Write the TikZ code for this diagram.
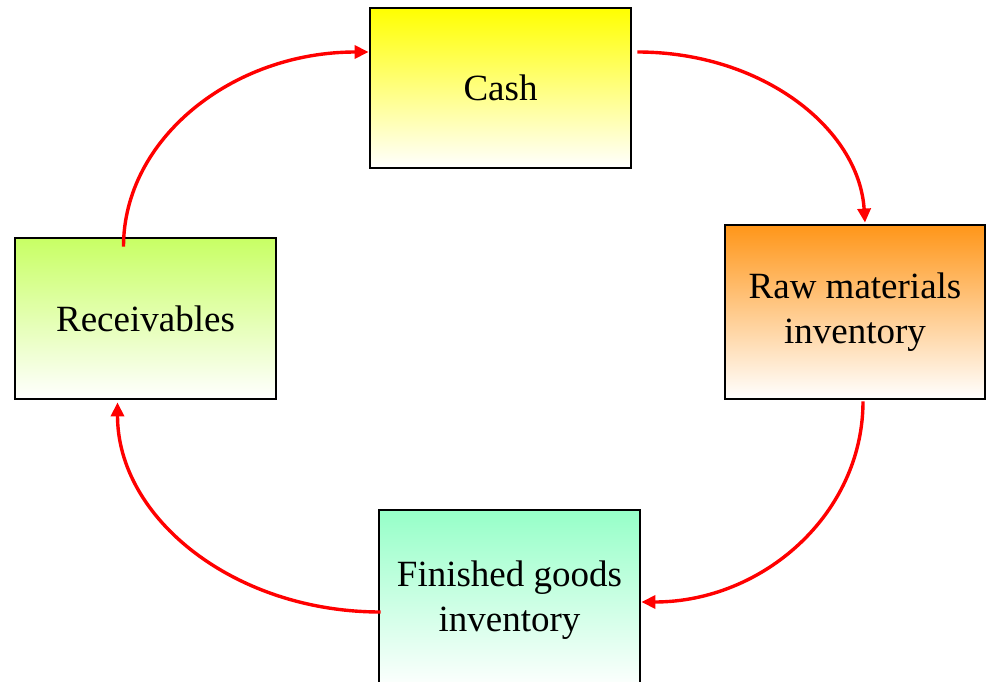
\documentclass[tikz,border=0pt]{standalone}
\usepackage{fontspec}
\setmainfont{Liberation Serif}
\usetikzlibrary{arrows.meta}

\definecolor{cashtop}{RGB}{255,255,0}
\definecolor{rawtop}{RGB}{255,150,25}
\definecolor{goodstop}{RGB}{150,255,200}
\definecolor{rectop}{RGB}{200,255,100}
\definecolor{flowred}{RGB}{255,0,0}

\tikzset{
  stage/.style={draw=black, line width=2.8pt, rectangle, inner sep=0pt,
    align=center, bottom color=white,
    font=\fontsize{37}{45}\selectfont},
  flow/.style={draw=flowred, line width=3.4pt,
    -{Triangle[length=14pt,width=13pt]}},
}

\begin{document}
\begin{tikzpicture}[x=1pt, y=-1pt]
  \useasboundingbox (0,0) rectangle (986,682);

  % the four stages of the cycle
  \node[stage, top color=cashtop, minimum width=261pt, minimum height=160pt]
    (cash) at (500.5,88) {Cash};
  \node[stage, top color=rawtop, minimum width=260pt, minimum height=174pt]
    (raw) at (855,312) {Raw materials\\inventory};
  \node[stage, top color=goodstop, minimum width=261pt, minimum height=180pt]
    (goods) at (509.5,600) {Finished goods\\inventory};
  \node[stage, top color=rectop, minimum width=261pt, minimum height=161pt]
    (rec) at (145.5,318.5) {Receivables};

  % curved flows between the stages
  \draw[flow] ([shift={(-22,10)}]rec.north)
    .. controls +(0,-108) and +(-136,0) .. ([shift={(0,-36)}]cash.west);
  \draw[flow] ([shift={(5,-36)}]cash.east)
    .. controls +(125,0) and +(-6,-94) .. ([shift={(10,-1)}]raw.north);
  \draw[flow] ([shift={(8,1)}]raw.south)
    .. controls +(0,112) and +(122,0) .. ([shift={(0,2)}]goods.east);
  \draw[flow] ([shift={(3,12)}]goods.west)
    .. controls +(-146,0) and +(0,116) .. ([shift={(-28,2)}]rec.south);
\end{tikzpicture}
\end{document}
